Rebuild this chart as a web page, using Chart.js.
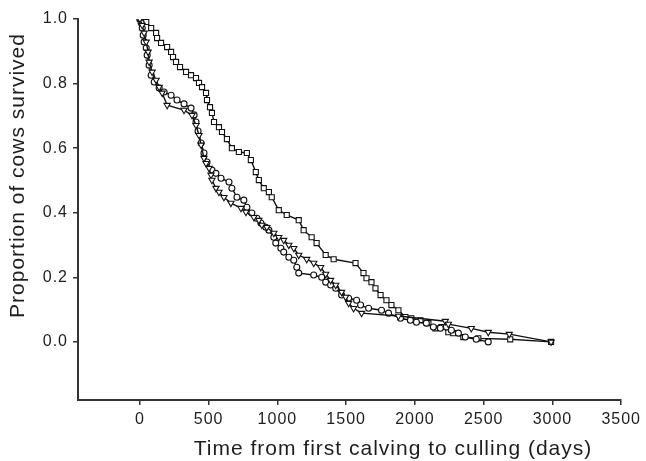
<!DOCTYPE html>
<html>
<head>
<meta charset="utf-8">
<script src="https://cdn.jsdelivr.net/npm/chart.js@4/dist/chart.umd.min.js"></script>
<style>
  html, body { margin: 0; padding: 0; background: #ffffff; }
  #wrap { width: 646px; height: 461px; position: relative; }
</style>
</head>
<body>
<div id="wrap"><canvas id="c" width="646" height="461"></canvas></div>
<script>
// ---- Data ----
const squareDays = [0, 46, 82, 118, 125, 154, 198, 227, 241, 263, 292, 336, 372, 408, 430, 452, 481, 488, 510, 524, 539, 575, 597, 633, 669, 720, 778, 807, 843, 865, 901, 938, 959, 1010, 1068, 1155, 1191, 1249, 1285, 1351, 1409, 1568, 1626, 1648, 1684, 1713, 1750, 1793, 1829, 1880, 1931, 1974, 2040, 2098, 2149, 2192, 2243, 2279, 2352, 2461, 2693, 2990];
const squareSurv = [1.0, 0.991, 0.972, 0.957, 0.941, 0.926, 0.913, 0.898, 0.882, 0.867, 0.851, 0.836, 0.826, 0.817, 0.802, 0.789, 0.771, 0.749, 0.727, 0.709, 0.681, 0.665, 0.650, 0.628, 0.600, 0.588, 0.585, 0.563, 0.526, 0.501, 0.476, 0.464, 0.448, 0.408, 0.393, 0.377, 0.346, 0.324, 0.306, 0.269, 0.256, 0.244, 0.213, 0.197, 0.185, 0.166, 0.145, 0.129, 0.114, 0.098, 0.077, 0.073, 0.067, 0.058, 0.042, 0.046, 0.030, 0.027, 0.015, 0.011, 0.008, 0.0];

const circleDays = [0, 9, 17, 24, 31, 46, 53, 67, 82, 104, 140, 176, 227, 270, 321, 372, 394, 408, 423, 445, 466, 488, 524, 553, 590, 648, 669, 706, 756, 778, 814, 851, 880, 916, 938, 974, 988, 1025, 1046, 1083, 1119, 1141, 1155, 1264, 1322, 1351, 1387, 1424, 1467, 1518, 1576, 1605, 1663, 1757, 1808, 1895, 1967, 2011, 2083, 2134, 2185, 2229, 2265, 2316, 2366, 2446, 2533];
const circleSurv = [1.0, 0.988, 0.972, 0.950, 0.929, 0.910, 0.888, 0.857, 0.826, 0.805, 0.786, 0.774, 0.764, 0.749, 0.737, 0.724, 0.703, 0.681, 0.653, 0.616, 0.585, 0.557, 0.532, 0.522, 0.507, 0.495, 0.476, 0.448, 0.439, 0.417, 0.399, 0.383, 0.368, 0.355, 0.346, 0.324, 0.306, 0.290, 0.278, 0.262, 0.253, 0.231, 0.213, 0.207, 0.200, 0.185, 0.176, 0.166, 0.145, 0.135, 0.129, 0.114, 0.104, 0.098, 0.089, 0.073, 0.067, 0.061, 0.058, 0.046, 0.042, 0.046, 0.036, 0.027, 0.015, 0.008, 0.0];

const triangleDays = [0, 17, 31, 46, 60, 67, 89, 118, 140, 162, 198, 321, 379, 408, 430, 445, 466, 481, 503, 517, 524, 553, 575, 611, 662, 735, 771, 829, 865, 887, 923, 974, 1010, 1046, 1083, 1119, 1155, 1213, 1264, 1315, 1351, 1387, 1424, 1467, 1496, 1518, 1554, 1612, 1880, 2221, 2243, 2410, 2533, 2686, 2990];
const triangleSurv = [1.0, 0.981, 0.957, 0.929, 0.898, 0.867, 0.836, 0.811, 0.789, 0.771, 0.733, 0.718, 0.702, 0.671, 0.640, 0.610, 0.569, 0.553, 0.538, 0.517, 0.501, 0.476, 0.464, 0.448, 0.430, 0.414, 0.402, 0.386, 0.377, 0.362, 0.355, 0.337, 0.324, 0.315, 0.300, 0.290, 0.269, 0.256, 0.244, 0.231, 0.210, 0.191, 0.176, 0.154, 0.139, 0.120, 0.104, 0.089, 0.080, 0.064, 0.055, 0.042, 0.030, 0.024, 0.0];

const xTickValues = [0, 500, 1000, 1500, 2000, 2500, 3000, 3500];
const yTickValues = [0.0, 0.2, 0.4, 0.6, 0.8, 1.0];
const xAxisTitle = 'Time from first calving to culling (days)';
const yAxisTitle = 'Proportion of cows survived';

// ---- helpers ----
function pts(xs, ys) { return xs.map((x, i) => ({ x: x, y: ys[i] })); }

const INK = '#1e1e1e';
const FONT = '"Liberation Sans", Arial, Helvetica, sans-serif';
Chart.defaults.font.family = FONT;
Chart.defaults.color = INK;

function seriesStyle(style, radius, rotation) {
  return {
    showLine: true,
    borderColor: '#111111',
    borderWidth: 1.4,
    tension: 0,
    pointStyle: style,
    pointRadius: radius,
    pointRotation: rotation,
    pointBackgroundColor: '#ffffff',
    pointBorderColor: '#111111',
    pointBorderWidth: 1.1,
    pointHoverRadius: radius
  };
}

const spacingPlugin = {
  id: 'spacing',
  beforeUpdate(chart) { chart.ctx.letterSpacing = '1px'; },
  beforeDraw(chart) { chart.ctx.letterSpacing = '1px'; }
};

const titlesPlugin = {
  id: 'titles',
  afterDraw(chart) {
    const ctx = chart.ctx;
    ctx.save();
    ctx.letterSpacing = '1px';
    ctx.fillStyle = INK;
    ctx.font = '21px ' + FONT;
    ctx.textAlign = 'center';
    ctx.textBaseline = 'alphabetic';
    ctx.fillText(xAxisTitle, 393, 455);
    ctx.translate(24, 175.5);
    ctx.rotate(-Math.PI / 2);
    ctx.fillText(yAxisTitle, 0, 0);
    ctx.restore();
  }
};

new Chart(document.getElementById('c'), {
  type: 'scatter',
  data: {
    datasets: [
      Object.assign({ label: 'Triangles', data: pts(triangleDays, triangleSurv) }, seriesStyle('triangle', 3.6, 180)),
      Object.assign({ label: 'Circles', data: pts(circleDays, circleSurv) }, seriesStyle('circle', 3, 0)),
      Object.assign({ label: 'Squares', data: pts(squareDays, squareSurv) }, seriesStyle('rect', 3.6, 0))
    ]
  },
  options: {
    responsive: false,
    animation: false,
    devicePixelRatio: 1,
    layout: { padding: { top: 19, right: 23, bottom: 0, left: 0 } },
    plugins: {
      legend: { display: false },
      tooltip: { enabled: false },
      title: { display: false }
    },
    scales: {
      x: {
        type: 'linear',
        min: -450,
        max: 3500,
        afterBuildTicks(axis) { axis.ticks = xTickValues.map(v => ({ value: v })); },
        afterFit(axis) { axis.height = 61; },
        ticks: {
          font: { size: 16 },
          color: INK,
          padding: 5,
          maxRotation: 0,
          callback: v => String(v)
        },
        grid: { display: true, drawOnChartArea: false, drawTicks: true, tickLength: 5, color: '#333333', lineWidth: 1.5 },
        border: { display: true, color: '#333333', width: 2 },
        title: { display: false }
      },
      y: {
        type: 'linear',
        min: -0.18,
        max: 1.0,
        afterBuildTicks(axis) { axis.ticks = yTickValues.map(v => ({ value: v })); },
        afterFit(axis) { axis.width = 78; },
        ticks: {
          font: { size: 16 },
          color: INK,
          padding: 5,
          callback: v => Number(v).toFixed(1)
        },
        grid: { display: true, drawOnChartArea: false, drawTicks: true, tickLength: 5, color: '#333333', lineWidth: 1.5 },
        border: { display: true, color: '#333333', width: 2 },
        title: { display: false }
      }
    }
  },
  plugins: [spacingPlugin, titlesPlugin]
});
</script>
</body>
</html>
